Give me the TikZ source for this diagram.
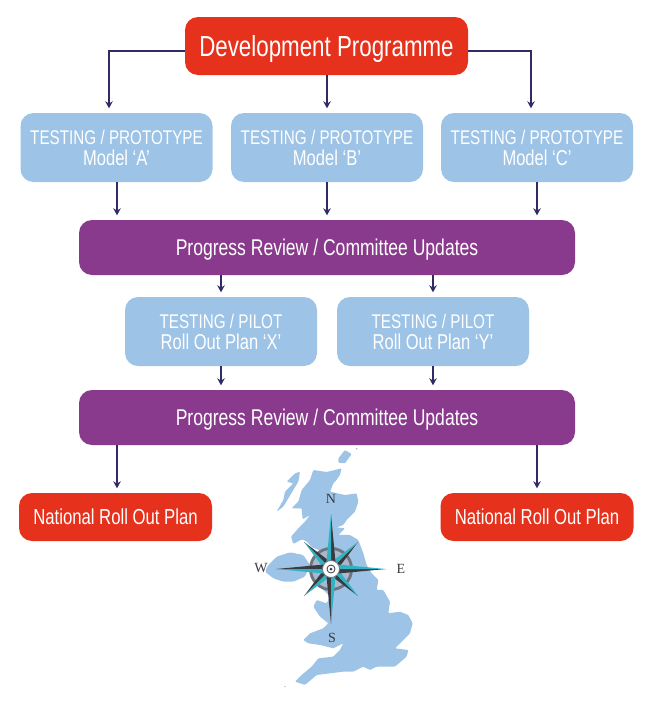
\documentclass[tikz,border=0pt]{standalone}
\usepackage{fontspec}
\setmainfont{Liberation Sans}[FakeStretch=0.77]
\newfontfamily\compassfont{Liberation Serif}
\usetikzlibrary{arrows.meta}
\definecolor{redbox}{HTML}{E6311C}
\definecolor{bluebox}{HTML}{9DC3E6}
\definecolor{purplebox}{HTML}{8A3A8C}
\definecolor{navyline}{HTML}{2F2B66}
\definecolor{teal}{HTML}{2FB3C4}
\definecolor{darkpoint}{HTML}{3A3A40}
\definecolor{ringgray}{HTML}{6F7480}
\definecolor{ringfill}{HTML}{A9B9CC}
\newcommand{\lineB}{\fontsize{21.5}{21}\selectfont}
\tikzset{
  box/.style={rounded corners=13, inner sep=0pt, align=center, text=white},
  devbox/.style={box, text height=20.9pt, text depth=0pt, fill=redbox, minimum width=283, minimum height=58, font=\fontsize{29}{30}\selectfont},
  testbox/.style={box, fill=bluebox, minimum width=192, minimum height=69, font=\fontsize{19.8}{21}\selectfont},
  reviewbox/.style={box, text height=16.4pt, text depth=0pt, fill=purplebox, minimum width=496, minimum height=55, font=\fontsize{22.8}{24}\selectfont},
  planbox/.style={box, text height=15.6pt, text depth=0pt, fill=redbox, minimum width=193, minimum height=48, font=\fontsize{21.7}{24}\selectfont},
  arr/.style={draw=navyline, line width=1.05, -{Stealth[length=7,width=7.5]}, shorten >=4.5},
  compassletter/.style={font=\compassfont\fontsize{14}{15}\selectfont, text=darkpoint, inner sep=0pt},
}
\begin{document}
\begin{tikzpicture}[x=1pt,y=-1pt]
\useasboundingbox (0,0) rectangle (650,710);
% map
\begin{scope}[shift={(230,440)},x=0.3333pt,y=-0.3333pt]
\fill[bluebox,rounded corners=1] (250,90)--(290,96)--(335,85)--(330,105)--(318,122)--(310,130)--(300,155)--(345,165)--(380,160)--(385,185)--(375,215)--(350,240)--(340,255)--(320,262)--(345,265)--(325,285)--(360,285)--(385,300)--(400,340)--(410,375)--(425,400)--(445,420)--(440,450)--(460,450)--(480,485)--(475,520)--(510,515)--(535,525)--(548,550)--(540,580)--(510,610)--(495,625)--(535,630)--(530,650)--(495,680)--(440,680)--(420,690)--(400,680)--(370,695)--(340,695)--(300,700)--(260,705)--(225,735)--(195,725)--(215,705)--(245,680)--(265,655)--(310,650)--(330,630)--(340,610)--(310,625)--(270,615)--(235,610)--(220,600)--(240,580)--(280,565)--(295,550)--(270,530)--(250,500)--(260,480)--(290,490)--(300,470)--(270,440)--(290,410)--(300,360)--(280,335)--(245,322)--(232,305)--(215,298)--(190,312)--(183,290)--(205,265)--(225,245)--(240,225)--(218,238)--(215,205)--(185,205)--(205,185)--(215,150)--(240,120)--cycle;
\fill[bluebox,rounded corners=1.5] (115,375)--(140,350)--(180,337)--(220,345)--(240,375)--(225,410)--(190,425)--(160,425)--(130,415)--(105,395)--cycle;
\fill[bluebox,rounded corners=1] (140,215)--(160,180)--(165,155)--(190,130)--(170,125)--(195,100)--(210,95)--(205,125)--(190,150)--(175,175)--(160,200)--cycle;
\fill[bluebox,rounded corners=1] (325,55)--(345,30)--(365,42)--(345,70)--(325,68)--cycle;
\fill[bluebox] (380,26) circle (3);
\fill[bluebox] (165,740) circle (2.5);
\end{scope}
% compass
\begin{scope}[shift={(331,569)}]
\fill[ringgray] (0,0) circle (22);
\fill[ringfill] (0,0) circle (19);
\foreach \a/\r in {45/38,135/38,225/38,315/38,0/55,90/55,180/55,270/55}{
  \begin{scope}[rotate=\a]
    \fill[darkpoint] (0,0) -- (\r,0) -- (7,4.5) -- cycle;
    \fill[teal] (0,0) -- (\r,0) -- (7,-4.5) -- cycle;
  \end{scope}
}
\fill[white,draw=ringgray,line width=0.8] (0,0) circle (8.5);
\draw[darkpoint,line width=0.8] (0,0) circle (4);
\fill[darkpoint] (0,0) circle (1.5);
\end{scope}
\node[compassletter] (north) at (331,499) {N};
\node[compassletter] (south) at (332,638) {S};
\node[compassletter] (west) at (261,568) {W};
\node[compassletter] (east) at (401,569) {E};
% boxes
\node[devbox] (dev) at (326.5,46) {Development Programme};
\node[testbox] (a) at (116.5,147.5) {TESTING / PROTOTYPE\\\lineB Model ‘A’};
\node[testbox] (b) at (327,147.5) {TESTING / PROTOTYPE\\\lineB Model ‘B’};
\node[testbox] (c) at (537,147.5) {TESTING / PROTOTYPE\\\lineB Model ‘C’};
\node[reviewbox] (pa) at (327,247.5) {Progress Review / Committee Updates};
\node[testbox] (x) at (221,331.5) {TESTING / PILOT\\\lineB Roll Out Plan ‘X’};
\node[testbox] (y) at (433,331.5) {TESTING / PILOT\\\lineB Roll Out Plan ‘Y’};
\node[reviewbox] (pb) at (327,417.5) {Progress Review / Committee Updates};
\node[planbox] (na) at (115.5,517) {National Roll Out Plan};
\node[planbox] (nb) at (537,517) {National Roll Out Plan};
% connectors
\draw[arr] ([yshift=-5]dev.west) -| ([xshift=-7.5]a.north);
\draw[arr] (b.north |- dev.south) -- (b.north);
\draw[arr] ([yshift=-5]dev.east) -| ([xshift=-6]c.north);
\draw[arr] ([xshift=0.5]a.south) -- ([xshift=0.5]a.south |- pa.north);
\draw[arr] (b.south) -- (b.south |- pa.north);
\draw[arr] (c.south) -- (c.south |- pa.north);
\draw[arr] (x.north |- pa.south) -- (x.north);
\draw[arr] (y.north |- pa.south) -- (y.north);
\draw[arr] (x.south) -- (x.south |- pb.north);
\draw[arr] (y.south) -- (y.south |- pb.north);
\draw[arr] ([xshift=1.5]na.north |- pb.south) -- ([xshift=1.5]na.north);
\draw[arr] (nb.north |- pb.south) -- (nb.north);
\end{tikzpicture}
\end{document}
